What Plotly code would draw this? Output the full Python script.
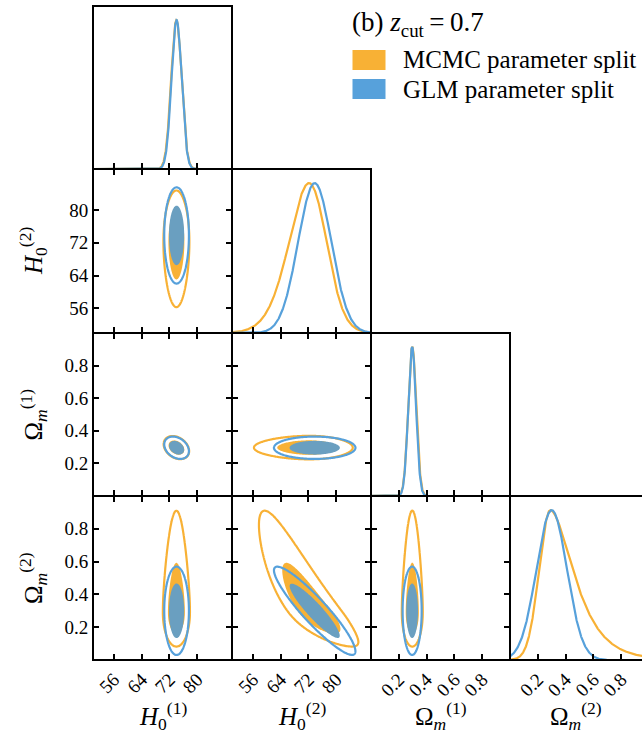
import numpy as np
import plotly.graph_objects as go

# ---------------- data ----------------
params = ["H0_1", "H0_2", "Om_1", "Om_2"]
axis_titles = ["<i>H</i><sub>0</sub><sup>(1)</sup>", "<i>H</i><sub>0</sub><sup>(2)</sup>",
               "Ω<sub><i>m</i></sub><sup>(1)</sup>", "Ω<sub><i>m</i></sub><sup>(2)</sup>"]
methods = ["MCMC parameter split", "GLM parameter split"]
title_text = "(b) <i>z</i><sub>cut</sub>\u2009=\u20090.7"

# H0^(1): mean, sd  (MCMC, GLM)
H01_mean = [74.0, 74.05]
H01_sd = [1.5, 1.45]
# Omega_m^(1): mean, sd
Om1_mean = [0.297, 0.296]
Om1_sd = [0.029, 0.028]
# correlation H0^(1) - Omega_m^(1)
rho_H01_Om1 = [-0.3, -0.3]
# Omega_m^(2) marginal: kind, mode, left width, right width
# "split": gaussian below the mode, log-gaussian (in Om/mode) above it
Om2_kind = ["split", "normal"]
Om2_mode = [0.29, 0.30]
Om2_left = [0.08, 0.11]
Om2_right = [0.44, 0.11]
# H0^(2) | Omega_m^(2) ~ N(a + b * Om2**p, tau)
H02_a = [101.9, 85.8]
H02_b = [-44.0, -40.0]
H02_p = [0.37, 1.0]
H02_tau = [3.0, 1.9]

levels_mass = [0.68, 0.95]

H_ticks = [56, 64, 72, 80]
Om_ticks = [0.2, 0.4, 0.6, 0.8]
H_range = [50, 90]
Om_range = [0, 1]
diag_range = [0, 1.094]

# ---------------- styles ----------------
line_col = ["#F8B135", "#57A1DB"]
fill_col = ["#F8B135", "#6A9FC0"]
FONT = "Liberation Serif"

# ---------------- density model ----------------
def npdf(x, m, s):
    return np.exp(-0.5 * ((x - m) / s) ** 2) / (s * np.sqrt(2 * np.pi))

def om2_pdf(x, k):
    if Om2_kind[k] == "split":
        m = Om2_mode[k]
        xp = np.where(x > 0, x, 1e-9)
        left = np.exp(-0.5 * ((x - m) / Om2_left[k]) ** 2)
        right = np.exp(-0.5 * (np.log(xp / m) / Om2_right[k]) ** 2)
        return np.where(x < m, left, right)
    return npdf(x, Om2_mode[k], Om2_left[k])

def h2_cond(h, om, k):
    omp = np.sign(om) * np.abs(om) ** H02_p[k]
    return npdf(h, H02_a[k] + H02_b[k] * omp, H02_tau[k])

om_int = np.linspace(-0.4, 3.0, 3401)

def h2_marg(h, k):
    w = om2_pdf(om_int, k)
    return (w[:, None] * h2_cond(h[None, :], om_int[:, None], k)).sum(axis=0)

def marg(var, g, k):
    if var == "H0_1":
        return npdf(g, H01_mean[k], H01_sd[k])
    if var == "Om_1":
        return npdf(g, Om1_mean[k], Om1_sd[k])
    if var == "Om_2":
        return om2_pdf(g, k)
    return h2_marg(g, k)

def joint(vx, vy, gx, gy, k):
    X, Y = np.meshgrid(gx, gy)
    pair = {vx, vy}
    if pair == {"H0_1", "Om_1"}:
        h = X if vx == "H0_1" else Y
        o = Y if vx == "H0_1" else X
        zh = (h - H01_mean[k]) / H01_sd[k]
        zo = (o - Om1_mean[k]) / Om1_sd[k]
        r = rho_H01_Om1[k]
        return np.exp(-(zh ** 2 - 2 * r * zh * zo + zo ** 2) / (2 * (1 - r ** 2)))
    if pair == {"H0_2", "Om_2"}:
        h = X if vx == "H0_2" else Y
        o = Y if vx == "H0_2" else X
        return om2_pdf(o, k) * h2_cond(h, o, k)
    return marg(vx, gx, k)[None, :] * marg(vy, gy, k)[:, None]

def mass_levels(z, fracs):
    flat = np.sort(z.ravel())[::-1]
    cum = np.cumsum(flat)
    cum /= cum[-1]
    return [flat[min(np.searchsorted(cum, f), len(flat) - 1)] for f in fracs]

cgrid = {
    "H0_1": np.linspace(64, 84, 161),
    "H0_2": np.linspace(40, 100, 211),
    "Om_1": np.linspace(0.14, 0.46, 161),
    "Om_2": np.linspace(-0.2, 1.7, 231),
}

# ---------------- layout geometry (pixel frame lines of the reference) ----------------
W, Hh = 642, 742
XL = [93, 232, 371, 510, 649]     # frame line centres (last one falls outside the page)
YL = [6, 169, 333, 496, 660]
ml, mt = XL[0] + 1, YL[0] + 1
mb = Hh - (YL[4] - 1)
mr = 0
pw = W - ml - mr
ph = Hh - mt - mb

def px_x(x):
    return (x - ml) / pw

def px_y(y):
    return ((Hh - mb) - y) / ph

def xdom(c):
    return [px_x(XL[c] + 1), px_x(min(XL[c + 1] - 1, W))]

def ydom(r):
    return [px_y(YL[r + 1] - 1), px_y(YL[r] + 1)]

def nominal(v):
    return H_range if v.startswith("H") else Om_range

def xrange_for(v, c):
    lo, hi = nominal(v)
    s = (hi - lo) / (XL[c + 1] - XL[c])
    return [lo + s, lo + (min(XL[c + 1] - 1, W) - XL[c]) * s]

def yrange_for(lohi, r):
    lo, hi = lohi
    s = (hi - lo) / (YL[r + 1] - YL[r])
    return [lo + s, hi - s]

def var_ticks(v):
    if v.startswith("H"):
        return H_ticks, [str(t) for t in H_ticks]
    return Om_ticks, [f"{t:.1f}" for t in Om_ticks]

fig = go.Figure()
layout = {}
tickfont = dict(family=FONT, size=19, color="black")
idx = 0
for r in range(4):
    for c in range(r + 1):
        idx += 1
        xn = "xaxis" if idx == 1 else f"xaxis{idx}"
        yn = "yaxis" if idx == 1 else f"yaxis{idx}"
        xr = "x" if idx == 1 else f"x{idx}"
        yr = "y" if idx == 1 else f"y{idx}"
        vx = params[c]
        tv, tt = var_ticks(vx)
        xax = dict(domain=xdom(c), anchor=yr, range=xrange_for(vx, c),
                   tickvals=tv, ticktext=tt, ticks="inside", ticklen=5, tickwidth=1.6,
                   tickcolor="black", showline=True, linecolor="black", linewidth=2,
                   showgrid=False, zeroline=False, showticklabels=(r == 3),
                   tickangle=-45, tickfont=tickfont, fixedrange=True)
        if r == c:
            xax["mirror"] = True
            yax = dict(domain=ydom(r), anchor=xr, range=yrange_for(diag_range, r),
                       showticklabels=False, ticks="", showline=True, linecolor="black",
                       linewidth=2, mirror=(c != 3), showgrid=False, zeroline=False,
                       fixedrange=True)
        else:
            xax["mirror"] = "ticks"
            vy = params[r]
            tvy, tty = var_ticks(vy)
            yax = dict(domain=ydom(r), anchor=xr, range=yrange_for(nominal(vy), r),
                       tickvals=tvy, ticktext=tty, ticks="inside", ticklen=5, tickwidth=1.6,
                       tickcolor="black", showline=True, linecolor="black", linewidth=2,
                       mirror="ticks", showgrid=False, zeroline=False,
                       showticklabels=(c == 0), tickfont=tickfont, fixedrange=True)
        layout[xn] = xax
        layout[yn] = yax

        if r == c:
            g = np.linspace(nominal(vx)[0], nominal(vx)[1], 801)
            for k in range(2):
                m = marg(vx, g, k)
                fig.add_trace(go.Scatter(x=g, y=m / m.max(), mode="lines",
                                         line=dict(color=line_col[k], width=2.2),
                                         xaxis=xr, yaxis=yr, showlegend=False,
                                         hoverinfo="skip"))
        else:
            vy = params[r]
            gx, gy = cgrid[vx], cgrid[vy]
            for k in range(2):
                z = joint(vx, vy, gx, gy, k)
                z = np.round(z / z.max(), 5)
                l68, l95 = mass_levels(z, levels_mass)
                # constraint contours shade the region failing the test:
                # "<" shades where z > l68 (the inner credible region)
                fig.add_trace(go.Contour(
                    x=gx, y=gy, z=z, xaxis=xr, yaxis=yr, showscale=False,
                    contours=dict(type="constraint", operation="<", value=float(l68)),
                    fillcolor=fill_col[k], line=dict(width=0, color=fill_col[k]),
                    hoverinfo="skip", showlegend=False))
                fig.add_trace(go.Contour(
                    x=gx, y=gy, z=z, xaxis=xr, yaxis=yr, showscale=False,
                    autocontour=False,
                    contours=dict(coloring="lines", start=float(l95), end=float(l95), size=1),
                    colorscale=[[0, line_col[k]], [1, line_col[k]]],
                    line=dict(width=2.2), hoverinfo="skip", showlegend=False))

# ---------------- annotations: axis labels, title, legend ----------------
labfont = dict(family=FONT, size=25, color="black")
ann = []
xlab_centres = [(XL[0] + XL[1]) / 2, (XL[1] + XL[2]) / 2, (XL[2] + XL[3]) / 2, (XL[3] + W) / 2]
for c in range(4):
    ann.append(dict(text=axis_titles[c], xref="paper", yref="paper", x=px_x(xlab_centres[c]),
                    y=px_y(716), xanchor="center", yanchor="middle", showarrow=False,
                    font=labfont))
for r in range(1, 4):
    ann.append(dict(text=axis_titles[r], xref="paper", yref="paper", x=px_x(33),
                    y=px_y((YL[r] + YL[r + 1]) / 2),
                    xanchor="center", yanchor="middle", showarrow=False, font=labfont,
                    textangle=-90))

ann.append(dict(text=title_text, xref="paper", yref="paper", x=px_x(350), y=px_y(24),
                xanchor="left", yanchor="middle", showarrow=False,
                font=dict(family=FONT, size=27, color="black")))
shapes = []
leg_y = [60, 89]
for k in range(2):
    shapes.append(dict(type="rect", xref="paper", yref="paper",
                       x0=px_x(352.5), x1=px_x(385.5), y0=px_y(leg_y[k] + 10), y1=px_y(leg_y[k] - 10),
                       fillcolor=line_col[k], line=dict(width=0)))
    ann.append(dict(text=methods[k], xref="paper", yref="paper", x=px_x(401), y=px_y(leg_y[k]),
                    xanchor="left", yanchor="middle", showarrow=False,
                    font=dict(family=FONT, size=25, color="black")))

fig.update_layout(**layout)
fig.update_layout(width=W, height=Hh, margin=dict(l=ml, r=mr, t=mt, b=mb, pad=0),
                  paper_bgcolor="white", plot_bgcolor="white", showlegend=False,
                  annotations=ann, shapes=shapes)
fig.write_html("out.html", config={"displayModeBar": False},
               post_script="document.body.style.margin='0px';")
